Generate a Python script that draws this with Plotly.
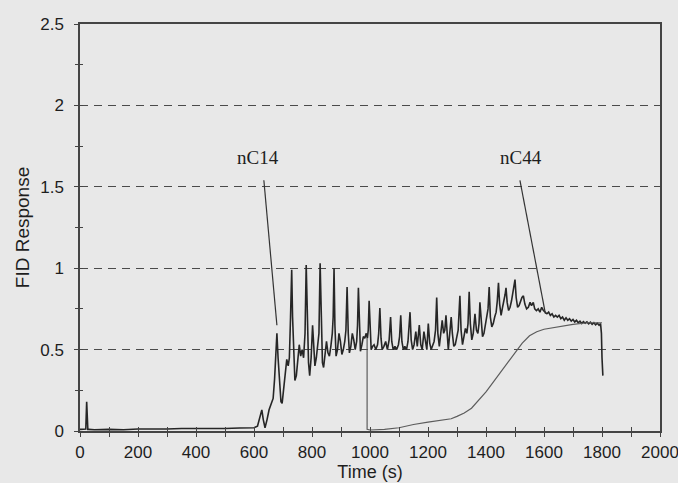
import plotly.graph_objects as go

# ---- data ----
fid_time = [0, 10, 20, 23, 25, 27, 30, 50, 100, 150, 200, 250, 300, 350, 400, 450, 500, 550, 590,
            600, 612, 620, 627, 632, 638, 645, 652, 660, 666, 671, 675, 679, 683, 688, 693, 697,
            702, 708, 713, 718, 722, 726, 730, 733, 737, 741, 746, 751, 756, 761, 766, 771, 776,
            780, 784, 788, 792, 797, 802, 806, 810, 815, 820, 824, 828, 832, 836, 840, 845, 850,
            855, 860, 865, 870, 873, 876, 879, 883, 888, 893, 898, 903, 908, 913, 917, 921, 925,
            929, 934, 939, 944, 949, 954, 957, 960, 963, 967, 972, 977, 982, 987, 991, 994, 997,
            1000, 1004, 1009, 1014, 1020, 1026, 1030, 1034, 1038, 1042, 1048, 1054, 1060, 1066,
            1071, 1075, 1080, 1086, 1092, 1098, 1102, 1106, 1110, 1115, 1120, 1126, 1131, 1138,
            1142, 1147, 1152, 1158, 1163, 1170, 1175, 1180, 1186, 1191, 1196, 1201, 1206, 1211,
            1216, 1221, 1226, 1230, 1234, 1239, 1244, 1249, 1254, 1258, 1262, 1266, 1270, 1275,
            1280, 1284, 1289, 1294, 1299, 1304, 1310, 1314, 1319, 1324, 1329, 1334, 1338, 1342,
            1346, 1351, 1356, 1362, 1367, 1372, 1376, 1379, 1383, 1388, 1393, 1398, 1402, 1407,
            1411, 1415, 1420, 1425, 1430, 1435, 1439, 1443, 1447, 1452, 1457, 1462, 1466, 1469,
            1473, 1478, 1483, 1488, 1494, 1500, 1504, 1509, 1514, 1519, 1524, 1529, 1534, 1540,
            1546, 1552, 1557, 1563, 1568, 1574, 1580, 1586, 1592, 1598, 1604, 1610, 1616, 1622,
            1628, 1634, 1640, 1646, 1652, 1658, 1664, 1670, 1676, 1682, 1688, 1694, 1700, 1706,
            1712, 1718, 1724, 1730, 1736, 1742, 1748, 1754, 1760, 1766, 1772, 1778, 1784, 1790,
            1795, 1798, 1800, 1803]
fid_resp = [0.01, 0.01, 0.012, 0.18, 0.04, 0.01, 0.01, 0.008, 0.01, 0.008, 0.012, 0.01, 0.012, 0.015,
            0.014, 0.016, 0.015, 0.018, 0.02,
            0.02, 0.03, 0.08, 0.13, 0.07, 0.02, 0.07, 0.13, 0.17, 0.2, 0.32, 0.48, 0.6, 0.45, 0.28,
            0.18, 0.17,
            0.25, 0.37, 0.44, 0.4, 0.45, 0.7, 0.99, 0.7, 0.45, 0.31, 0.34, 0.45, 0.53, 0.46, 0.5,
            0.45, 0.6,
            1.02, 0.62, 0.42, 0.34, 0.45, 0.65, 0.5, 0.4, 0.45, 0.52, 0.6, 1.03, 0.6, 0.42, 0.39,
            0.47, 0.55,
            0.48, 0.46, 0.52, 0.6, 0.7, 1.0, 0.65, 0.46, 0.5, 0.6, 0.55, 0.47, 0.5, 0.55, 0.62,
            0.885, 0.6,
            0.48, 0.52, 0.6, 0.56, 0.5, 0.55, 0.65, 0.88, 0.62, 0.49, 0.53, 0.58, 0.57, 0.6, 0.57,
            0.62, 0.8,
            0.6, 0.5, 0.52, 0.53, 0.5, 0.53, 0.6, 0.755, 0.57, 0.5, 0.52, 0.55, 0.5, 0.56,
            0.70, 0.55, 0.5, 0.52, 0.5, 0.53, 0.58, 0.71, 0.55, 0.5, 0.52, 0.5, 0.55, 0.73,
            0.56, 0.5, 0.53, 0.61, 0.52, 0.65, 0.53, 0.5, 0.61, 0.55, 0.5, 0.66, 0.54, 0.5,
            0.52, 0.55, 0.62, 0.82, 0.6, 0.52, 0.6, 0.68, 0.6, 0.62, 0.71, 0.56, 0.5, 0.6,
            0.70, 0.6, 0.52, 0.53, 0.57, 0.62, 0.83, 0.62, 0.53, 0.58, 0.63, 0.6, 0.66, 0.855,
            0.66, 0.56, 0.6, 0.72, 0.62, 0.6, 0.66, 0.79, 0.66, 0.58, 0.6, 0.66, 0.7, 0.75,
            0.885, 0.7, 0.64, 0.66, 0.7, 0.73, 0.8, 0.91, 0.78, 0.71, 0.76, 0.8, 0.84, 0.88,
            0.79, 0.74, 0.76, 0.8, 0.86, 0.93, 0.82, 0.76, 0.77, 0.8, 0.82, 0.83, 0.78, 0.75,
            0.76, 0.79, 0.77, 0.79, 0.75, 0.74, 0.75, 0.73, 0.76, 0.74, 0.73, 0.72, 0.73, 0.71,
            0.72, 0.7, 0.71, 0.7, 0.71, 0.69, 0.7, 0.68, 0.695, 0.68, 0.69, 0.675, 0.685, 0.67,
            0.68, 0.665, 0.675, 0.66, 0.672, 0.662, 0.67, 0.658, 0.668, 0.655, 0.665, 0.652, 0.662, 0.65,
            0.66, 0.6, 0.45, 0.34]

nc44_time = [990, 990, 1000, 1050, 1100, 1150, 1200, 1250, 1280, 1300, 1325, 1350, 1375, 1400,
             1425, 1450, 1475, 1500, 1525, 1550, 1575, 1600, 1650, 1700, 1750, 1800]
nc44_resp = [0.57, 0.01, 0.006, 0.01, 0.02, 0.04, 0.055, 0.065, 0.075, 0.09, 0.11, 0.14, 0.19, 0.24,
             0.30, 0.36, 0.42, 0.48, 0.54, 0.585, 0.61, 0.625, 0.64, 0.655, 0.665, 0.665]

label_names = ["nC14", "nC44"]
label_time = [614, 1521]
label_resp = [1.683, 1.683]
leader_start_time = [634, 1517]
leader_start_resp = [1.54, 1.54]
leader_end_time = [679, 1605]
leader_end_resp = [0.65, 0.72]

x_ticks = list(range(0, 2001, 200))
y_ticks = [0, 0.5, 1, 1.5, 2, 2.5]

BG = "#e8e8e8"
INK = "#262626"

fig = go.Figure()
fig.add_trace(go.Scatter(x=fid_time, y=fid_resp, mode="lines",
                         line=dict(color=INK, width=1.6), showlegend=False))
fig.add_trace(go.Scatter(x=nc44_time, y=nc44_resp, mode="lines",
                         line=dict(color="#5c5c5c", width=1.2), showlegend=False))
# dummy trace for the overlay axes (inside ticks)
fig.add_trace(go.Scatter(x=[None], y=[None], xaxis="x2", yaxis="y2",
                         mode="lines", showlegend=False, hoverinfo="skip"))

for i, name in enumerate(label_names):
    fig.add_annotation(x=label_time[i], y=label_resp[i], text=name, showarrow=False,
                       font=dict(family="Liberation Serif, Times New Roman, serif",
                                 size=19, color="#1e1e1e"))
    fig.add_shape(type="line", x0=leader_start_time[i], y0=leader_start_resp[i],
                  x1=leader_end_time[i], y1=leader_end_resp[i],
                  line=dict(color="#333333", width=1.2))

axis_font = dict(family="Liberation Sans, Arial, sans-serif", size=17, color="#1e1e1e")

fig.update_layout(
    width=678, height=483,
    margin=dict(l=80, r=18, t=24, b=52),
    paper_bgcolor=BG, plot_bgcolor=BG,
    font=axis_font,
    xaxis=dict(range=[0, 2000], tickvals=x_ticks, ticks="outside", ticklen=4,
               tickcolor="#444", tickwidth=1, automargin=False, ticklabeloverflow="allow",
               minor=dict(dtick=100, ticks="outside", ticklen=4, tickcolor="#444"),
               showline=True, linecolor="#444", linewidth=1.5, mirror=True,
               showgrid=False, zeroline=False, ticklabelstandoff=1,
               title=dict(text="Time (s)", font=dict(size=18), standoff=0),
               tickfont=axis_font),
    yaxis=dict(range=[0, 2.5], tickvals=y_ticks, ticks="outside", ticklen=4,
               tickcolor="#444", tickwidth=1, automargin=False, ticklabeloverflow="allow",
               minor=dict(dtick=0.25, ticks="outside", ticklen=3, tickcolor="#444"),
               showline=True, linecolor="#444", linewidth=1.5, mirror=True,
               showgrid=True, gridcolor="#4a4a4a", gridwidth=1, griddash="8px,6px",
               zeroline=False, ticklabelstandoff=7,
               title=dict(text="FID Response", font=dict(size=19), standoff=6),
               tickfont=axis_font),
    xaxis2=dict(range=[0, 2000], overlaying="x", anchor="y2", side="bottom",
                dtick=100, ticks="inside", ticklen=4, tickcolor="#444", automargin=False,
                showticklabels=False, showgrid=False, zeroline=False, showline=False),
    yaxis2=dict(range=[0, 2.5], overlaying="y", anchor="x2", side="left",
                dtick=0.25, ticks="inside", ticklen=3, tickcolor="#444", automargin=False,
                showticklabels=False, showgrid=False, zeroline=False, showline=False),
)

fig.write_html("out.html", config={"displayModeBar": False},
               post_script="document.body.style.margin='0';document.body.style.overflow='hidden';")
